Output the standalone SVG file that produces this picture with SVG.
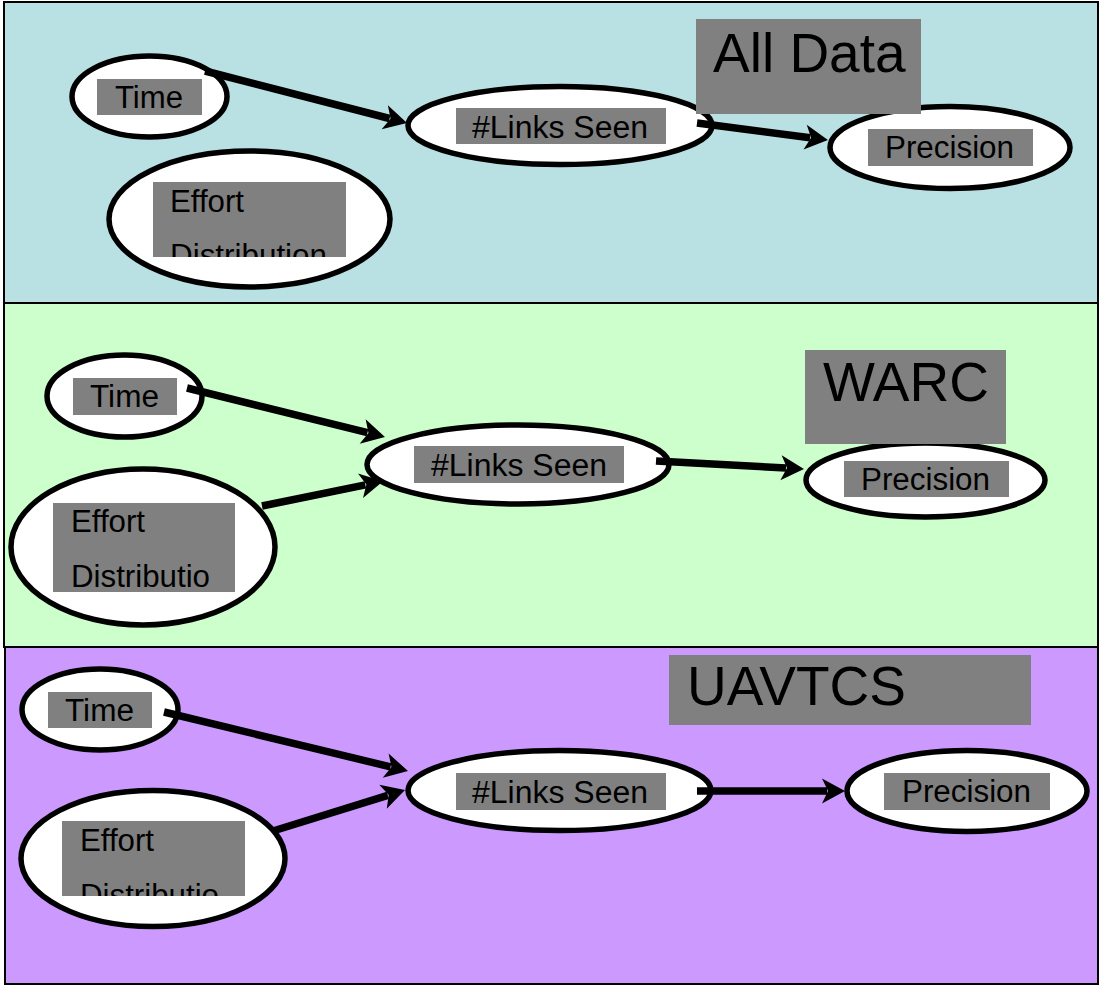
<svg xmlns="http://www.w3.org/2000/svg" width="1099" height="986" viewBox="0 0 1099 986">
  <style>
    .panel { stroke: #000; stroke-width: 2; }
    .node { fill: #fff; stroke: #000; stroke-width: 5.5; }
    .lbl { fill: #808080; }
    .txt { font-family: "Liberation Sans", Arial, sans-serif; font-size: 31px; fill: #000; }
    .ttl { font-family: "Liberation Sans", Arial, sans-serif; font-size: 55px; fill: #000; }
    .edge { stroke: #000; stroke-width: 7.5; fill: none; marker-end: url(#arr); }
  </style>
  <defs>
    <marker id="arr" markerUnits="userSpaceOnUse" viewBox="-8 -14 30 28" markerWidth="30" markerHeight="28" refX="0" refY="0" orient="auto" overflow="visible">
      <path d="M18,0 L-5,-12.5 L1,0 L-5,12.5 Z" fill="#000"/>
    </marker>
    <clipPath id="clipE1"><rect x="153" y="182" width="193" height="75"/></clipPath>
    <clipPath id="clipE2"><rect x="53" y="503" width="182" height="89"/></clipPath>
    <clipPath id="clipE3"><rect x="62" y="821" width="183" height="75"/></clipPath>
  </defs>

  <!-- panel backgrounds -->
  <g id="panels">
    <rect class="panel" x="4" y="2" width="1094" height="301" fill="#b9e0e3"/>
    <rect class="panel" x="4" y="303" width="1094" height="344" fill="#ccffcc"/>
    <rect class="panel" x="5" y="647" width="1093" height="337" fill="#cc99ff"/>
  </g>

  <!-- All Data -->
  <g id="p1-time">
    <ellipse class="node" cx="149.5" cy="96.5" rx="77.5" ry="40.5"/>
    <rect class="lbl" x="97" y="79" width="105" height="36"/>
    <text class="txt" x="115" y="108" textLength="68" lengthAdjust="spacingAndGlyphs">Time</text>
  </g>
  <g id="p1-effort">
    <ellipse class="node" cx="249.5" cy="219" rx="140.5" ry="68"/>
    <rect class="lbl" x="153" y="182" width="193" height="75"/>
    <g clip-path="url(#clipE1)">
      <text class="txt" x="170" y="212" textLength="74" lengthAdjust="spacingAndGlyphs">Effort</text>
      <text class="txt" x="170" y="266" textLength="157" lengthAdjust="spacingAndGlyphs">Distribution</text>
    </g>
  </g>
  <g id="p1-links">
    <ellipse class="node" cx="560" cy="125.5" rx="152" ry="39"/>
    <rect class="lbl" x="456" y="108" width="210" height="36"/>
    <text class="txt" x="472" y="138" textLength="176" lengthAdjust="spacingAndGlyphs">#Links Seen</text>
  </g>
  <g id="p1-precision">
    <ellipse class="node" cx="950" cy="147.5" rx="120" ry="41"/>
    <rect class="lbl" x="868" y="129" width="165" height="37"/>
    <text class="txt" x="885" y="158" textLength="129" lengthAdjust="spacingAndGlyphs">Precision</text>
  </g>

  <!-- WARC -->
  <g id="p2-time">
    <ellipse class="node" cx="124.5" cy="396" rx="77.5" ry="41"/>
    <rect class="lbl" x="73" y="378" width="104" height="37"/>
    <text class="txt" x="90" y="407" textLength="69" lengthAdjust="spacingAndGlyphs">Time</text>
  </g>
  <g id="p2-effort">
    <ellipse class="node" cx="143" cy="547" rx="132" ry="78"/>
    <rect class="lbl" x="53" y="503" width="182" height="89"/>
    <g clip-path="url(#clipE2)">
      <text class="txt" x="71" y="532" textLength="74" lengthAdjust="spacingAndGlyphs">Effort</text>
      <text class="txt" x="71" y="587" textLength="139" lengthAdjust="spacingAndGlyphs">Distributio</text>
    </g>
  </g>
  <g id="p2-links">
    <ellipse class="node" cx="518" cy="464.5" rx="151" ry="39.5"/>
    <rect class="lbl" x="414" y="446" width="210" height="37"/>
    <text class="txt" x="431" y="476" textLength="176" lengthAdjust="spacingAndGlyphs">#Links Seen</text>
  </g>
  <g id="p2-precision">
    <ellipse class="node" cx="925.5" cy="480" rx="119.5" ry="37"/>
    <rect class="lbl" x="844" y="461" width="165" height="36"/>
    <text class="txt" x="861" y="490" textLength="129" lengthAdjust="spacingAndGlyphs">Precision</text>
  </g>

  <!-- UAVTCS -->
  <g id="p3-time">
    <ellipse class="node" cx="100" cy="709.5" rx="78" ry="40.5"/>
    <rect class="lbl" x="48" y="692" width="104" height="36"/>
    <text class="txt" x="65" y="721" textLength="69" lengthAdjust="spacingAndGlyphs">Time</text>
  </g>
  <g id="p3-effort">
    <ellipse class="node" cx="153" cy="858.5" rx="132" ry="68"/>
    <rect class="lbl" x="62" y="821" width="183" height="75"/>
    <g clip-path="url(#clipE3)">
      <text class="txt" x="80" y="851" textLength="74" lengthAdjust="spacingAndGlyphs">Effort</text>
      <text class="txt" x="80" y="906" textLength="139" lengthAdjust="spacingAndGlyphs">Distributio</text>
    </g>
  </g>
  <g id="p3-links">
    <ellipse class="node" cx="559.5" cy="790.5" rx="151.5" ry="40"/>
    <rect class="lbl" x="456" y="773" width="210" height="37"/>
    <text class="txt" x="472" y="803" textLength="176" lengthAdjust="spacingAndGlyphs">#Links Seen</text>
  </g>
  <g id="p3-precision">
    <ellipse class="node" cx="967" cy="791" rx="120" ry="40.5"/>
    <rect class="lbl" x="884" y="773" width="166" height="37"/>
    <text class="txt" x="902" y="802" textLength="129" lengthAdjust="spacingAndGlyphs">Precision</text>
  </g>

  <!-- connectors -->
  <g id="connectors">
    <line class="edge" x1="205" y1="71" x2="389.6" y2="118.5"/>
    <line class="edge" x1="697" y1="123" x2="810.1" y2="137.7"/>
    <line class="edge" x1="187" y1="388" x2="367.5" y2="432.7"/>
    <line class="edge" x1="262" y1="506" x2="365.4" y2="484.8"/>
    <line class="edge" x1="656" y1="461" x2="786" y2="468"/>
    <line class="edge" x1="164" y1="712" x2="390.5" y2="766.8"/>
    <line class="edge" x1="273" y1="831" x2="387.8" y2="795.3"/>
    <line class="edge" x1="697" y1="791" x2="827" y2="791"/>
  </g>

  <!-- panel titles -->
  <g id="title-all-data">
    <rect class="lbl" x="696" y="19" width="225" height="95"/>
    <text class="ttl" x="713" y="72">All Data</text>
  </g>
  <g id="title-warc">
    <rect class="lbl" x="805" y="350" width="201" height="94"/>
    <text class="ttl" x="823" y="401">WARC</text>
  </g>
  <g id="title-uavtcs">
    <rect class="lbl" x="669" y="655" width="362" height="70"/>
    <text class="ttl" x="687" y="705">UAVTCS</text>
  </g>
</svg>
